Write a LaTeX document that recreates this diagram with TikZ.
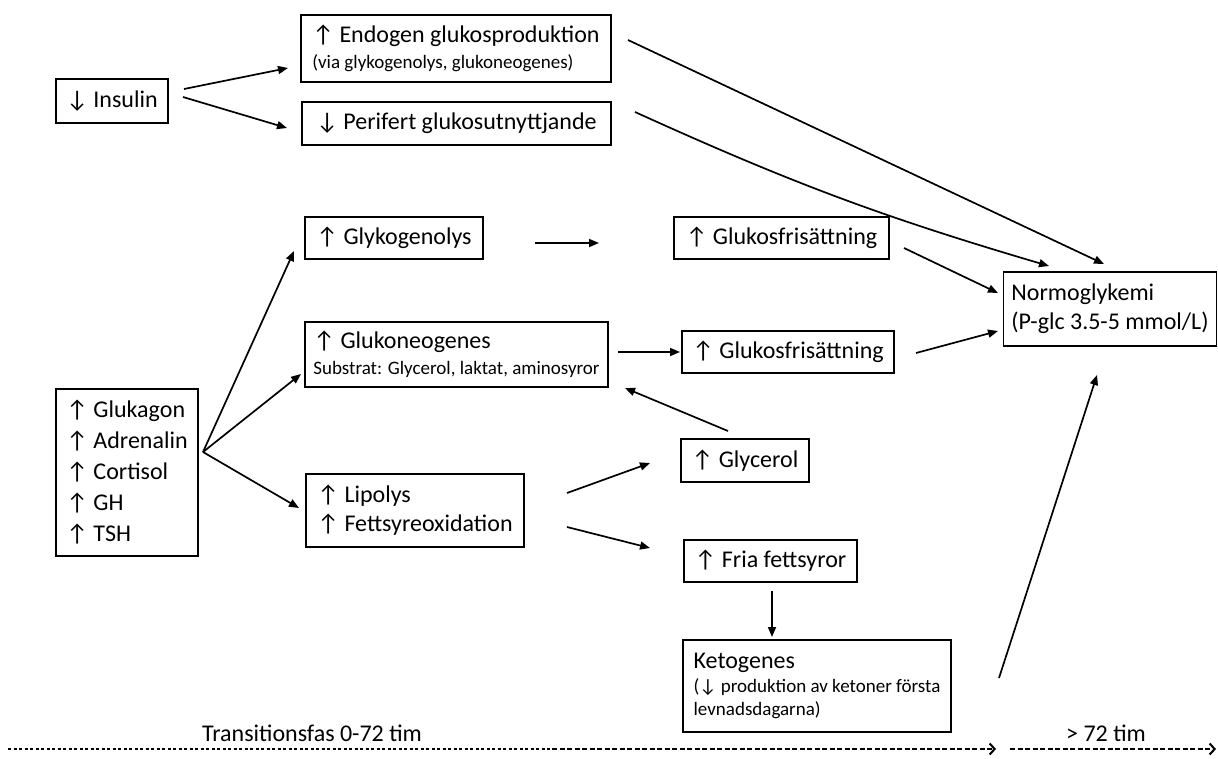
\documentclass[tikz,border=0pt]{standalone}
\usepackage{fontspec}
\setmainfont{Carlito}
\usetikzlibrary{arrows.meta}
\newcommand{\bigf}{\fontsize{24}{29}\selectfont}
\newcommand{\smallf}{\fontsize{19}{23}\selectfont}
\tikzset{
  box/.style={draw, line width=1.5pt, inner xsep=8pt, inner ysep=2pt, align=left, font=\bigf, anchor=center},
  arr/.style={line width=1.7pt, -{Triangle[length=10pt,width=8pt]}},
  tl/.style={line width=1.2pt, -{Straight Barb[length=5pt,width=11pt,line width=2pt]}}
}
\begin{document}
\begin{tikzpicture}[x=1pt,y=-1pt]
\useasboundingbox (0,0) rectangle (1218,758);
% boxes
\node[box, minimum width=112, minimum height=44] (ins) at (112,101) {↓ Insulin};
\node[box, minimum width=310, minimum height=67] (endo) at (456,48.5) {↑ Endogen glukosproduktion\\[-3pt]{\smallf (via glykogenolys, glukoneogenes)}};
\node[box, minimum width=309, minimum height=43] (peri) at (456.5,123.5) {↓ Perifert glukosutnyttjande};
\node[box, minimum width=178, minimum height=42] (glyk) at (394,238) {↑ Glykogenolys};
\node[box, minimum width=215, minimum height=42] (gf1) at (781.5,238) {↑ Glukosfrisättning};
\node[box, minimum width=212, minimum height=74] (normo) at (1110,309) {Normoglykemi\\(P-glc 3.5-5 mmol/L)};
\node[box, minimum width=303, minimum height=65] (gneo) at (456.5,354.5) {↑ Glukoneogenes\\[-3pt]{\smallf Substrat: Glycerol, laktat, aminosyror}};
\node[box, minimum width=212, minimum height=42] (gf2) at (788,352) {↑ Glukosfrisättning};
\node[box, minimum width=142, minimum height=167] (horm) at (127,472.5) {↑ Glukagon\\[2pt]↑ Adrenalin\\[2pt]↑ Cortisol\\[2pt]↑ GH\\[2pt]↑ TSH};
\node[box, minimum width=128, minimum height=43] (glyc) at (745,460.5) {↑ Glycerol};
\node[box, minimum width=218, minimum height=73] (lipo) at (415,510.5) {↑ Lipolys\\↑ Fettsyreoxidation};
\node[box, minimum width=173, minimum height=42] (fria) at (770.5,561) {↑ Fria fettsyror};
\node[box, minimum width=268, minimum height=92] (keto) at (817,686) {Ketogenes\\[-5pt]{\smallf (↓ produktion av ketoner första}\\[-6pt]{\smallf levnadsdagarna)}};
% labels
\node[font=\bigf] (t1) at (312,733) {Transitionsfas 0-72 tim};
\node[font=\bigf] (t2) at (1106,733) {> 72 tim};
% connector end points
\coordinate (a1s) at (184,89);  \coordinate (a1e) at (288,68);
\coordinate (a2s) at (183,97);  \coordinate (a2e) at (287,128);
\coordinate (a3s) at (628,40);  \coordinate (a3e) at (1104,264);
\coordinate (a4s) at (635,112); \coordinate (a4e) at (1049,266);
\coordinate (a5s) at (535,243); \coordinate (a5e) at (599,243);
\coordinate (a6s) at (904,248); \coordinate (a6e) at (998,293);
\coordinate (a7s) at (618,352); \coordinate (a7e) at (680,352);
\coordinate (a8s) at (916,353); \coordinate (a8e) at (998,331);
\coordinate (hs)  at (203,452);
\coordinate (a9e) at (294,251);
\coordinate (a10e) at (301,374);
\coordinate (a11e) at (299,508);
\coordinate (a12s) at (728,431); \coordinate (a12e) at (625,388);
\coordinate (a13s) at (567,493); \coordinate (a13e) at (650,463);
\coordinate (a14s) at (567,527); \coordinate (a14e) at (650,548);
\coordinate (a15s) at (772,591); \coordinate (a15e) at (772,637);
\coordinate (a16s) at (999,678); \coordinate (a16e) at (1097,375);
\coordinate (d1) at (8,749); \coordinate (d2) at (552,749); \coordinate (d3) at (996,749);
\coordinate (d4) at (1010,749); \coordinate (d5) at (1216,749);
% arrows
\draw[arr] (a1s) -- (a1e);
\draw[arr] (a2s) -- (a2e);
\draw[arr] (a3s) -- (a3e);
\draw[arr] (a4s) to[bend right=4] (a4e);
\draw[arr] (a5s) -- (a5e);
\draw[arr] (a6s) -- (a6e);
\draw[arr] (a7s) -- (a7e);
\draw[arr] (a8s) -- (a8e);
\draw[arr] (hs) -- (a9e);
\draw[arr] (hs) -- (a10e);
\draw[arr] (hs) -- (a11e);
\draw[arr] (a12s) -- (a12e);
\draw[arr] (a13s) -- (a13e);
\draw[arr] (a14s) -- (a14e);
\draw[arr] (a15s) -- (a15e);
\draw[arr] (a16s) -- (a16e);
% timeline
\draw[line width=1.2pt, dash pattern=on 3pt off 2.5pt] (d1) -- (d2);
\draw[tl, dash pattern=on 5pt off 2.5pt] (d2) -- (d3);
\draw[tl, dash pattern=on 5pt off 2.5pt] (d4) -- (d5);
\end{tikzpicture}
\end{document}
